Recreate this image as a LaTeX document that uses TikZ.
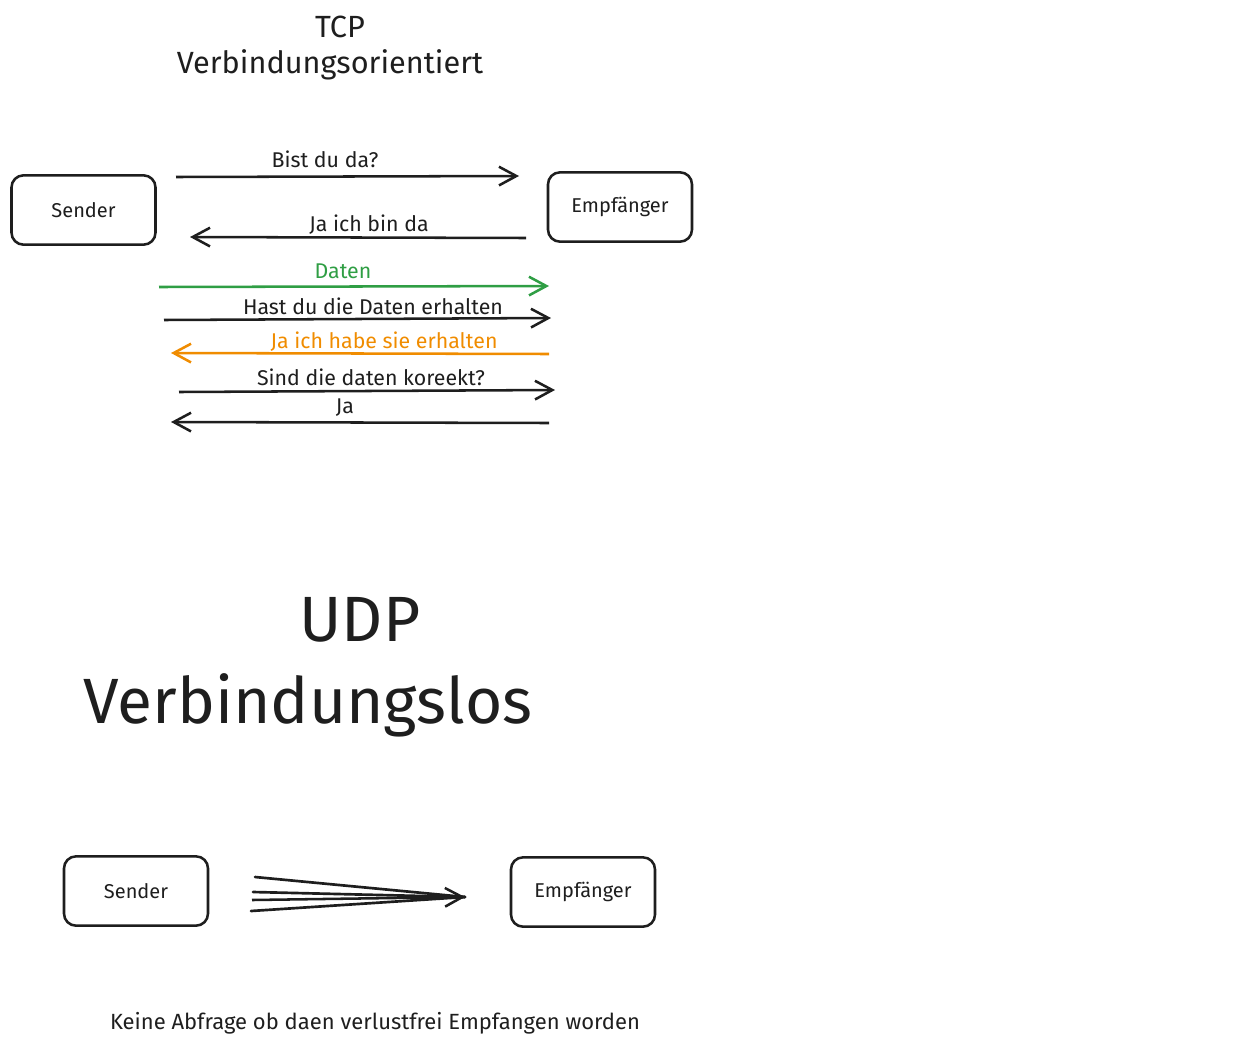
\documentclass[tikz,border=0pt]{standalone}
\usepackage{fontspec}
\setmainfont{Fira Sans}
\usetikzlibrary{positioning,arrows.meta}
\definecolor{ink}{HTML}{1E1E1E}
\definecolor{okgreen}{HTML}{2F9E44}
\definecolor{ackorange}{HTML}{F08C00}
\tikzset{
  party/.style ={rectangle, rounded corners=9pt, draw=ink, line width=1.9pt,
                 fill=white, text=ink, align=center, font=\fontsize{15}{17}\selectfont,
                 minimum width=108pt, minimum height=52pt, inner sep=2pt},
  msg/.style   ={-{Straight Barb[length=13pt,width=14pt,line width=1.9pt]}, line width=1.9pt, draw=ink},
  msgg/.style  ={msg, draw=okgreen},
  msgo/.style  ={msg, draw=ackorange},
  lbl/.style   ={font=\fontsize{16}{18}\selectfont, text=ink, inner sep=1pt},
  ttl/.style   ={font=\fontsize{23}{28}\selectfont, text=ink, align=center},
  bigttl/.style={font=\fontsize{48}{58}\selectfont, text=ink, inner sep=0pt},
  ray/.style   ={line width=2pt, draw=ink, line cap=round}
}
\begin{document}
\begin{tikzpicture}[x=0.75pt,y=-0.75pt]
  \useasboundingbox (0,0) rectangle (1234,1046);
  % --- TCP : header
  \node[ttl] (tcp)  at (340,27) {TCP};
  \node[ttl] (tcpv) at (330,65) {Verbindungsorientiert};
  % --- TCP : both ends
  \node[party] (snd) at (83.5,210) {Sender};
  \node[party] (emp) at (620,207)  {Empfänger};
  % --- TCP : message ends, top to bottom
  \coordinate (m1a) at (176,177); \coordinate (m1b) at (519,176);
  \coordinate (m2a) at (526,238); \coordinate (m2b) at (190,237);
  \coordinate (m3a) at (159,287); \coordinate (m3b) at (549,286);
  \coordinate (m4a) at (164,320); \coordinate (m4b) at (551,318);
  \coordinate (m5a) at (549,354); \coordinate (m5b) at (171,353);
  \coordinate (m6a) at (179,392); \coordinate (m6b) at (555,390);
  \coordinate (m7a) at (549,423); \coordinate (m7b) at (171,422);
  \draw[msg]  (m1a) -- (m1b);  \node[lbl] (l1) at (325,159) {Bist du da?};
  \draw[msg]  (m2a) -- (m2b);  \node[lbl] (l2) at (369,225) {Ja ich bin da};
  \draw[msgg] (m3a) -- (m3b);  \node[lbl,text=okgreen] (l3) at (343,271) {Daten};
  \draw[msg]  (m4a) -- (m4b);  \node[lbl] (l4) at (373,306) {Hast du die Daten erhalten};
  \draw[msgo] (m5a) -- (m5b);  \node[lbl,text=ackorange] (l5) at (384,342) {Ja ich habe sie erhalten};
  \draw[msg]  (m6a) -- (m6b);  \node[lbl] (l6) at (371,377) {Sind die daten koreekt?};
  \draw[msg]  (m7a) -- (m7b);  \node[lbl] (l7) at (345,408) {Ja};
  % --- UDP : header
  \node[bigttl] (udp)  at (360,620) {UDP};
  \node[bigttl] (udpv) at (308,705) {Verbindungslos};
  % --- UDP : fire and forget
  \node[party] (usnd) at (136,891) {Sender};
  \node[party] (uemp) at (583,892) {Empfänger};
  \coordinate (tip) at (465,897);
  \coordinate (r1) at (255,877); \coordinate (r2) at (253,892);
  \coordinate (r3) at (252,900); \coordinate (r4) at (251,911);
  \draw[ray] (r1) -- (tip); \draw[ray] (r2) -- (tip); \draw[ray] (r4) -- (tip);
  \draw[msg] (r3) -- (tip);
  \node[lbl,font=\fontsize{16.5}{18}\selectfont] (note) at (375,1023) {Keine Abfrage ob daen verlustfrei Empfangen worden};
\end{tikzpicture}
\end{document}
